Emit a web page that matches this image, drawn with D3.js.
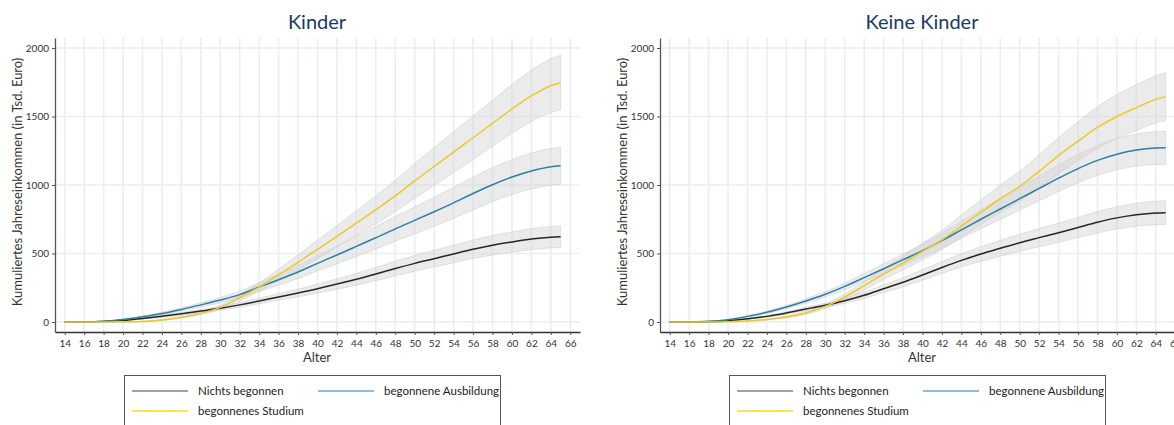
<!DOCTYPE html>
<html>
<head>
<meta charset="utf-8">
<script src="https://cdn.jsdelivr.net/npm/d3@7"></script>
<style>
  html, body { margin: 0; padding: 0; background: #ffffff; }
  svg { display: block; }
  text { font-family: Lato, "Open Sans", "Liberation Sans", sans-serif; }
</style>
</head>
<body>
<svg id="chart" width="1174" height="425"></svg>
<script>
// Age points (years)
const ages = [14,16,18,20,22,24,26,28,30,32,34,36,38,40,42,44,46,48,50,52,54,56,58,60,62,64,65];

// Panel "Kinder": cumulative income (Tsd. Euro) and confidence half-widths
const nichtsK     = [0,0,3,12,26,42,60,80,100,125,153,183,212,243,277,312,350,390,428,462,497,531,560,584,605,619,623];
const nichtsKci   = [0,0,1,3,5,8,10,12,14,17,20,24,28,33,38,43,48,53,57,61,65,68,71,74,76,78,79];
const ausbK       = [0,1,6,18,38,62,92,125,160,200,255,308,365,428,489,552,615,680,742,805,870,938,1002,1058,1102,1133,1141];
const ausbKci     = [0,0,1,3,6,9,12,16,20,25,32,40,48,56,65,73,82,90,98,106,113,119,124,128,131,134,135];
const studK       = [0,0,0,1,4,15,34,63,107,177,255,345,435,530,625,722,820,920,1030,1135,1240,1345,1450,1555,1650,1725,1747];
const studKci     = [0,0,0,1,2,4,6,10,15,22,31,42,54,66,78,90,102,114,126,138,149,159,168,178,187,196,200];

// Panel "Keine Kinder"
const nichtsKK    = [0,0,2,10,24,41,66,95,122,155,195,243,290,343,398,450,496,538,579,616,652,690,728,760,783,796,798];
const nichtsKKci  = [0,0,1,2,4,6,9,12,15,19,23,28,33,38,43,48,53,58,62,66,70,74,78,81,84,86,87];
const ausbKK      = [0,1,5,17,41,71,109,153,202,260,324,389,455,521,594,672,750,825,900,975,1050,1120,1180,1225,1255,1270,1272];
const ausbKKci    = [0,0,1,3,6,9,12,16,20,25,30,36,42,48,55,62,69,76,83,90,97,103,109,114,117,120,121];
const studKK      = [0,0,0,2,7,19,36,66,114,182,265,350,430,515,600,700,800,900,990,1100,1215,1320,1420,1500,1565,1625,1645];
const studKKci    = [0,0,0,1,2,4,7,11,16,23,31,40,50,60,70,80,90,100,110,121,132,142,152,160,167,172,175];

// Axis ticks and labels
const xTicks = [14,16,18,20,22,24,26,28,30,32,34,36,38,40,42,44,46,48,50,52,54,56,58,60,62,64,66];
const yTicks = [0,500,1000,1500,2000];
const seriesNames = ["Nichts begonnen", "begonnene Ausbildung", "begonnenes Studium"];
const lineColors = ["#262626", "#2b7ea6", "#ecc928"];
const legendColors = ["#808080", "#62a9cc", "#f7dc1a"];

const svg = d3.select("#chart");

function drawPanel(offsetX, title, values, cis) {
  const g = svg.append("g").attr("transform", `translate(${offsetX},0)`);
  const x = d3.scaleLinear().domain([13, 67]).range([55, 580]);
  const y = d3.scaleLinear().domain([-73, 2073]).range([332, 38]);

  // grid
  g.append("g").selectAll("line").data(xTicks).join("line")
    .attr("x1", d => x(d)).attr("x2", d => x(d))
    .attr("y1", 38).attr("y2", 332)
    .attr("stroke", "#e7eff1").attr("stroke-width", 1.6);
  g.append("g").selectAll("line").data(yTicks).join("line")
    .attr("x1", 55).attr("x2", 580)
    .attr("y1", d => y(d)).attr("y2", d => y(d))
    .attr("stroke", "#e7eff1").attr("stroke-width", 1.6);

  // confidence bands
  values.forEach((vals, i) => {
    const ci = cis[i];
    const area = d3.area()
      .x((d, j) => x(ages[j]))
      .y0((d, j) => y(vals[j] - ci[j]))
      .y1((d, j) => y(vals[j] + ci[j]))
      .curve(d3.curveMonotoneX);
    g.append("path").datum(vals)
      .attr("d", area)
      .attr("fill", "#d2d2d2").attr("fill-opacity", 0.45)
      .attr("stroke", "#c8c8c8").attr("stroke-opacity", 0.6).attr("stroke-width", 0.8);
  });

  // lines
  values.forEach((vals, i) => {
    const line = d3.line()
      .x((d, j) => x(ages[j]))
      .y(d => y(d))
      .curve(d3.curveMonotoneX);
    g.append("path").datum(vals)
      .attr("d", line)
      .attr("fill", "none")
      .attr("stroke", lineColors[i]).attr("stroke-width", 1.5);
  });

  // axes
  const xAxis = d3.axisBottom(x).tickValues(xTicks).tickSize(3).tickSizeOuter(0);
  const gx = g.append("g").attr("transform", "translate(0,332)").call(xAxis);
  gx.select(".domain").attr("stroke", "#333").attr("stroke-width", 1.3);
  gx.selectAll(".tick line").attr("stroke", "#555");
  gx.selectAll(".tick text").attr("font-size", 10).attr("fill", "#333").attr("dy", "0.9em")
    .attr("font-family", "Lato, 'Open Sans', sans-serif");

  const yAxis = d3.axisLeft(y).tickValues(yTicks).tickFormat(d3.format("d")).tickSize(3).tickSizeOuter(0);
  const gy = g.append("g").attr("transform", "translate(55,0)").call(yAxis);
  gy.select(".domain").attr("stroke", "#555").attr("stroke-width", 1.3);
  gy.selectAll(".tick line").attr("stroke", "#555");
  gy.selectAll(".tick text").attr("font-size", 10).attr("fill", "#333")
    .attr("font-family", "Lato, 'Open Sans', sans-serif");

  // titles and labels
  g.append("text").attr("x", 317).attr("y", 29).attr("text-anchor", "middle")
    .attr("font-size", 20).attr("fill", "#203864").text(title);
  g.append("text").attr("x", 317).attr("y", 362).attr("text-anchor", "middle")
    .attr("font-size", 13).attr("fill", "#333").text("Alter");
  g.append("text").attr("transform", "translate(22,182) rotate(-90)")
    .attr("text-anchor", "middle").attr("font-size", 13).attr("fill", "#333")
    .text("Kumuliertes Jahreseinkommen (in Tsd. Euro)");

  // legend
  const lg = g.append("g");
  lg.append("rect").attr("x", 124.5).attr("y", 375.5).attr("width", 376).attr("height", 60)
    .attr("fill", "#fff").attr("stroke", "#555").attr("stroke-width", 1);
  const items = [
    {i: 0, lx: 132, ty: 391},
    {i: 1, lx: 318, ty: 391},
    {i: 2, lx: 132, ty: 411}
  ];
  items.forEach(it => {
    lg.append("line").attr("x1", it.lx).attr("x2", it.lx + 56)
      .attr("y1", it.ty).attr("y2", it.ty)
      .attr("stroke", legendColors[it.i]).attr("stroke-width", 1.3);
    lg.append("text").attr("x", it.lx + 66).attr("y", it.ty + 4)
      .attr("font-size", 11.5).attr("fill", "#222").text(seriesNames[it.i]);
  });
}

drawPanel(0, "Kinder", [nichtsK, ausbK, studK], [nichtsKci, ausbKci, studKci]);
drawPanel(605, "Keine Kinder", [nichtsKK, ausbKK, studKK], [nichtsKKci, ausbKKci, studKKci]);
</script>
</body>
</html>
